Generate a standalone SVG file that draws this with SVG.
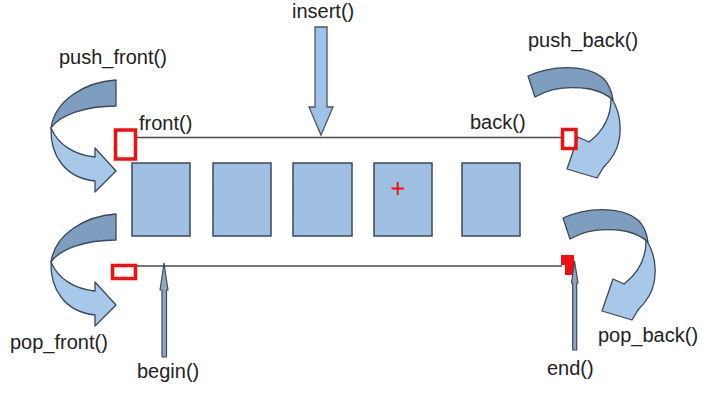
<svg xmlns="http://www.w3.org/2000/svg" width="714" height="414" viewBox="0 0 714 414">
<style>
text{font-family:"Liberation Sans",Arial,sans-serif;font-size:20px;fill:#222}
.ln{stroke:#4a4a4a;stroke-width:1.5;fill:none}
.box{fill:#9fc0e3;stroke:#3d4a57;stroke-width:1.5}
.lt{fill:#a8c8ea;stroke:#3b4858;stroke-width:1.3;stroke-linejoin:round}
.dk{fill:#7f9dbe;stroke:#3b4858;stroke-width:1.3;stroke-linejoin:round}
.thin{fill:#8fa6bf;stroke:#3e4c5c;stroke-width:1.2;stroke-linejoin:round}
.red{fill:none;stroke:#f01010;stroke-width:3.5}
</style>
<defs>
<g id="leftArrow">
<path class="lt" d="M51,128 C50,155 65,178 95,181 L95,192 L116,171 L95,148 L95,157 C75,155 58,145 51,128 Z"/>
<path class="dk" d="M116,80 C85,82 55,100 51,128 C60,115 85,106 116,106 Z"/>
</g>
<g id="rightArrow">
<path class="lt" d="M612,99 C622,115 623,138 614,154 C610,161 606,165 603,168 L597,178 L567,169 L578,137 L589,142 C602,132 611,118 611,99 Z"/>
<path class="dk" d="M528,76 C550,66 585,63 603,78 C609,84 612,92 613,100 C606,94 600,91 590,89 C570,86 550,88 535,97 Z"/>
</g>
</defs>
<g id="connectors">
<line class="ln" x1="136" y1="137.5" x2="562" y2="137.5"/>
<line class="ln" x1="136" y1="266" x2="562" y2="266"/>
</g>
<g id="insert-arrow">
<path d="M315,27 H327 V107 H333 L321,135 L309,107 H315 Z" fill="#9fc3e8" stroke="#555" stroke-width="1.3"/>
</g>
<g id="push_front-arrow"><use href="#leftArrow"/></g>
<g id="pop_front-arrow"><use href="#leftArrow" transform="translate(0,134)"/></g>
<g id="push_back-arrow"><use href="#rightArrow"/></g>
<g id="pop_back-arrow"><use href="#rightArrow" transform="translate(35,142)"/></g>
<g id="elements">
<rect id="e1" class="box" x="132" y="163" width="58" height="73"/>
<rect id="e2" class="box" x="213" y="163" width="58" height="73"/>
<rect id="e3" class="box" x="293" y="163" width="59" height="73"/>
<rect id="e4" class="box" x="374" y="163" width="58" height="73"/>
<rect id="e5" class="box" x="462" y="163" width="58" height="73"/>
</g>
<g id="marks">
<rect class="red" x="115.5" y="130" width="20" height="29"/>
<rect class="red" x="562.5" y="129.5" width="13.5" height="19"/>
<rect class="red" x="112.5" y="265.5" width="23" height="13"/>
<path d="M561,255 H574 V275 H565 V265 H561 Z" fill="#f01010"/>
<path d="M391.5,188.5 H404 M397.7,182 V195" stroke="#f01010" stroke-width="2"/>
</g>
<g id="begin-arrow">
<path class="thin" d="M162,357 V290 H160 L164,263 L168,290 H166.5 V357 Z"/>
</g>
<g id="end-arrow">
<path class="thin" d="M572.7,350 V283 H571.5 L574.5,261 L578,283 H576.7 V350 Z"/>
</g>
<g id="labels">
<text x="59" y="64">push_front()</text>
<text x="139" y="130">front()</text>
<text x="292" y="18">insert()</text>
<text x="528" y="47">push_back()</text>
<text x="470" y="129">back()</text>
<text x="10" y="349">pop_front()</text>
<text x="137" y="378">begin()</text>
<text x="547" y="375">end()</text>
<text x="598" y="342">pop_back()</text>
</g>
</svg>
